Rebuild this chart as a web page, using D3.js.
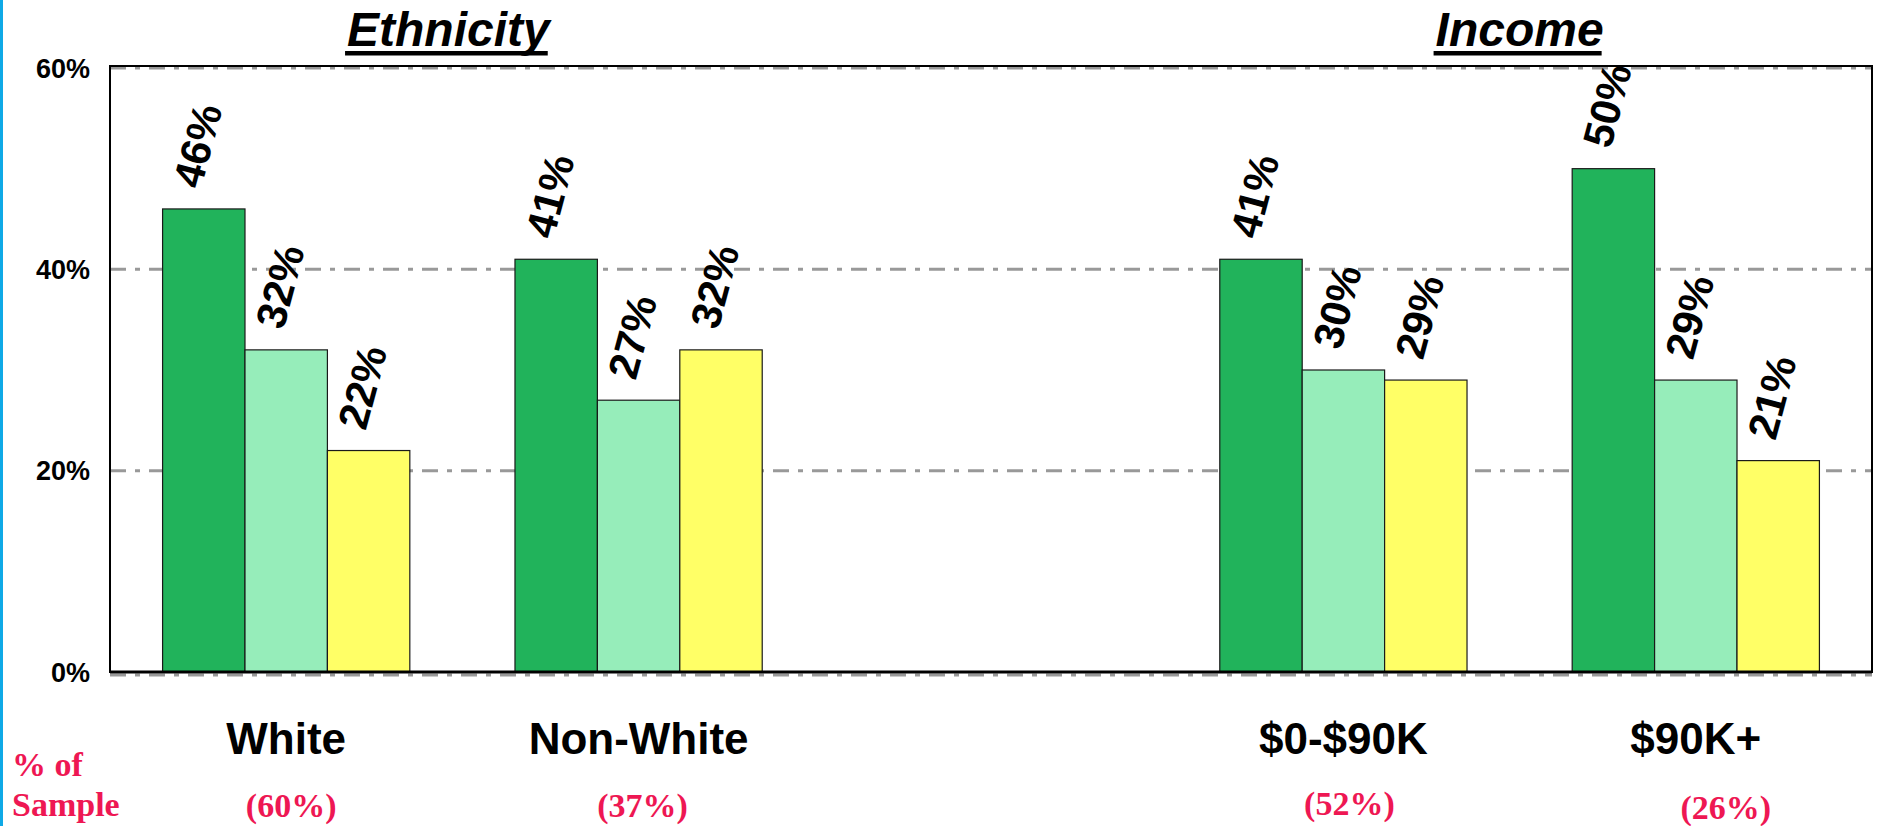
<!DOCTYPE html>
<html>
<head>
<meta charset="utf-8">
<script src="https://cdn.jsdelivr.net/npm/d3@7"></script>
<style>
  html, body { margin: 0; padding: 0; background: #fff; }
  svg { display: block; }
</style>
</head>
<body>
<svg id="chart" width="1878" height="826"></svg>
<script>
// ---- data ----
const categories = ["White", "Non-White", "$0-$90K", "$90K+"];
const seriesNames = ["Series 1", "Series 2", "Series 3"];
const series1 = [46, 41, 41, 50];
const series2 = [32, 27, 30, 29];
const series3 = [22, 32, 29, 21];
const sampleShares = [60, 37, 52, 26];
const groupTitles = ["Ethnicity", "Income"];
const yTicks = [0, 20, 40, 60];

// ---- layout ----
const W = 1878, H = 826;
const left = 110, right = 1872, yTopPx = 68, yBotPx = 672;
const colors = ["#21B35B", "#96EDBA", "#FFFF66"];
const sansF = "'Liberation Sans', Arial, Helvetica, sans-serif";
const serifF = "'Liberation Serif', 'Times New Roman', serif";
const red = "#EE1753";

const svg = d3.select("#chart");
svg.append("rect").attr("width", W).attr("height", H).attr("fill", "#fff");
// left blue border
svg.append("rect").attr("x", 0).attr("y", 0).attr("width", 3).attr("height", H).attr("fill", "#0FA9E6");

const slots = ["White", "Non-White", "__gap__", "$0-$90K", "$90K+"];
const x0 = d3.scaleBand().domain(slots).range([left, right]).paddingInner(0).paddingOuter(0);
const x1 = d3.scaleBand().domain(seriesNames).range([0, x0.bandwidth()]).paddingInner(0).paddingOuter(0.638);
const y = d3.scaleLinear().domain([0, 60]).range([yBotPx, yTopPx]);

const seriesVals = [series1, series2, series3];
const rows = categories.map((c, i) => ({
  cat: c,
  vals: seriesNames.map((s, j) => ({ s, j, v: seriesVals[j][i] }))
}));

// gridlines
const grid = svg.append("g");
grid.selectAll("line").data(yTicks).join("line")
  .attr("x1", left).attr("x2", right)
  .attr("y1", d => y(d) + (d === 0 ? 3 : 0))
  .attr("y2", d => y(d) + (d === 0 ? 3 : 0))
  .attr("stroke", "#999").attr("stroke-width", 3)
  .attr("stroke-dasharray", "16,9,5,9");

// bars
const groups = svg.append("g").selectAll("g").data(rows).join("g")
  .attr("transform", d => `translate(${x0(d.cat)},0)`);
groups.selectAll("rect").data(d => d.vals).join("rect")
  .attr("x", d => x1(d.s))
  .attr("y", d => y(d.v))
  .attr("width", x1.bandwidth())
  .attr("height", d => y(0) - y(d.v))
  .attr("fill", d => colors[d.j])
  .attr("stroke", "#1a1a1a").attr("stroke-width", 1.2);

// frame
svg.append("path")
  .attr("d", `M${left},${yBotPx}V${y(60) - 2}H${right}V${yBotPx}Z`)
  .attr("fill", "none").attr("stroke", "#000").attr("stroke-width", 2);
svg.append("line").attr("x1", left).attr("x2", right).attr("y1", yBotPx).attr("y2", yBotPx)
  .attr("stroke", "#000").attr("stroke-width", 3);

// value labels
groups.selectAll("text").data(d => d.vals).join("text")
  .attr("transform", d => `translate(${x1(d.s) + x1.bandwidth() / 2 - 3},${y(d.v) - 19}) rotate(-75)`)
  .attr("font-family", sansF).attr("font-weight", "bold").attr("font-size", 42)
  .attr("fill", "#000")
  .text(d => d.v + "%");

// y axis labels
const yAxis = d3.axisLeft(y).tickValues(yTicks).tickFormat(d => d + "%").tickSize(0).tickPadding(20);
const ya = svg.append("g").attr("transform", `translate(${left},0)`).call(yAxis);
ya.select(".domain").remove();
ya.selectAll("text").attr("font-family", sansF).attr("font-weight", "bold")
  .attr("font-size", 27).attr("fill", "#000").attr("dy", "0.34em");

// category labels
const cx = c => x0(c) + x0.bandwidth() / 2;
svg.append("g").selectAll("text").data(categories).join("text")
  .attr("x", d => cx(d)).attr("y", 754)
  .attr("text-anchor", "middle")
  .attr("font-family", sansF).attr("font-weight", "bold").attr("font-size", 44)
  .attr("fill", "#000").text(d => d);

// sample share labels
const sampleShift = [5, 4, 6, 30];
const sampleY = [817, 817, 815, 819];
svg.append("g").selectAll("text").data(sampleShares).join("text")
  .attr("x", (d, i) => cx(categories[i]) + sampleShift[i]).attr("y", (d, i) => sampleY[i])
  .attr("text-anchor", "middle")
  .attr("font-family", serifF).attr("font-weight", "bold").attr("font-size", 34)
  .attr("fill", red).text(d => `(${d}%)`);

svg.append("text").attr("x", 12).attr("y", 776)
  .attr("font-family", serifF).attr("font-weight", "bold").attr("font-size", 34)
  .attr("fill", red).text("% of");
svg.append("text").attr("x", 12).attr("y", 816)
  .attr("font-family", serifF).attr("font-weight", "bold").attr("font-size", 34)
  .attr("fill", red).text("Sample");

// group titles
const titleX = [(cx("White") + cx("Non-White")) / 2 - 14, (cx("$0-$90K") + cx("$90K+")) / 2];
groupTitles.forEach((t, i) => {
  const tx = svg.append("text").attr("x", titleX[i]).attr("y", 46)
    .attr("text-anchor", "middle")
    .attr("font-family", sansF).attr("font-weight", "bold").attr("font-style", "italic")
    .attr("font-size", 48).attr("fill", "#000").text(t);
  const w = tx.node().getComputedTextLength();
  svg.append("rect").attr("x", titleX[i] - w / 2 - 2).attr("y", 51)
    .attr("width", w).attr("height", 4.5).attr("fill", "#000");
});
</script>
</body>
</html>
